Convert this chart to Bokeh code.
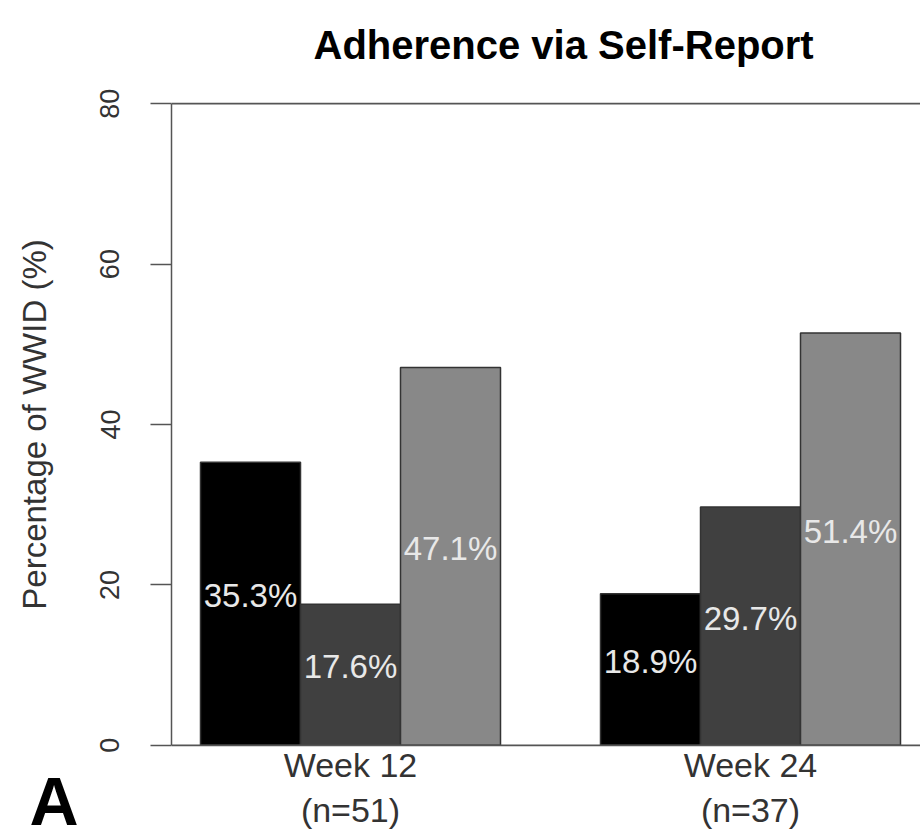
from bokeh.plotting import figure
from bokeh.models import Range1d, FixedTicker, Span, Title, ColumnDataSource
from bokeh.core.properties import value
from bokeh.embed import file_html
from bokeh.resources import INLINE

# ---- data ----
title_text = "Adherence via Self-Report"
y_label = "Percentage of WWID (%)"
groups = ["Week 12\n(n=51)", "Week 24\n(n=37)"]
series_black = [35.3, 18.9]
series_dark = [17.6, 29.7]
series_light = [47.1, 51.4]
y_ticks = [0, 20, 40, 60, 80]
panel_letter = "A"

FONT = "Liberation Sans"
colors = ["#000000", "#404040", "#888888"]
series = [series_black, series_dark, series_light]

p = figure(width=920, height=832, output_backend="svg", toolbar_location=None,
           x_range=Range1d(0.71, 8.20), y_range=Range1d(-0.4, 80.4),
           min_border_left=171, min_border_right=0, min_border_top=100, min_border_bottom=84)
p.outline_line_color = None
p.xgrid.visible = False
p.ygrid.visible = False
p.background_fill_color = "white"
p.border_fill_color = "white"

# bars
xs, tops, fills, labels, label_y = [], [], [], [], []
for k, s in enumerate(series):
    for g, v in enumerate(s):
        xs.append(1.5 + k + 4 * g)
        tops.append(v)
        fills.append(colors[k])
        labels.append(f"{v:.1f}%")
        label_y.append(v / 2 + 1)
src = ColumnDataSource(dict(x=xs, top=tops, fill=fills, label=labels, ly=label_y))
p.vbar(x="x", top="top", bottom=0, width=1.0, fill_color="fill", line_color="#333333",
       line_width=1.5, source=src)
p.text(x="x", y="ly", text="label", source=src, text_align="center", text_baseline="middle",
       text_color="#e8e8e8", text_font=value(FONT), text_font_size="33px")

for loc in (0, 80):
    p.add_layout(Span(location=loc, dimension="width", line_color="#555555", line_width=1.8))

# y axis
ya = p.yaxis[0]
ya.ticker = FixedTicker(ticks=y_ticks)
ya.bounds = (0, 80)
ya.major_label_orientation = "vertical"
ya.major_label_text_font = FONT
ya.major_label_text_font_size = "27px"
ya.major_label_text_color = "#333333"
ya.major_label_standoff = 31
ya.major_tick_out = 21
ya.major_tick_in = 0
ya.major_tick_line_color = "#555555"
ya.major_tick_line_width = 1.5
ya.minor_tick_line_color = None
ya.axis_line_color = "#555555"
ya.axis_line_width = 1.5
ya.axis_label = y_label
ya.axis_label_text_font = FONT
ya.axis_label_text_font_size = "33px"
ya.axis_label_text_font_style = "normal"
ya.axis_label_text_color = "#333333"
ya.axis_label_standoff = 45

# x axis
xa = p.xaxis[0]
centers = [2.5 + 4 * g for g in range(len(groups))]
xa.ticker = FixedTicker(ticks=centers)
xa.major_label_overrides = {c: lab for c, lab in zip(centers, groups)}
xa.axis_line_color = None
xa.major_tick_line_color = None
xa.minor_tick_line_color = None
xa.major_tick_out = 0
xa.major_label_standoff = -3
xa.major_label_text_font = FONT
xa.major_label_text_font_size = "34px"
xa.major_label_text_color = "#333333"

# spacer between frame and title, then the title itself
spacer = Title(text=" ", text_font_size="1px", standoff=31)
p.add_layout(spacer, "above")
t = Title(text=title_text, align="left", offset=142, text_font=FONT, text_font_size="40px",
          text_font_style="bold", text_color="#000000", standoff=0)
p.add_layout(t, "above")

# panel letter, placed in the bottom panel and pulled up/left into the corner
letter = Title(text=panel_letter, align="left", offset=-142, standoff=-140, vertical_align="top",
               text_font=FONT, text_font_size="68px", text_font_style="bold",
               text_color="#000000")
p.add_layout(letter, "below")

open("out.html", "w").write(file_html(p, INLINE))
